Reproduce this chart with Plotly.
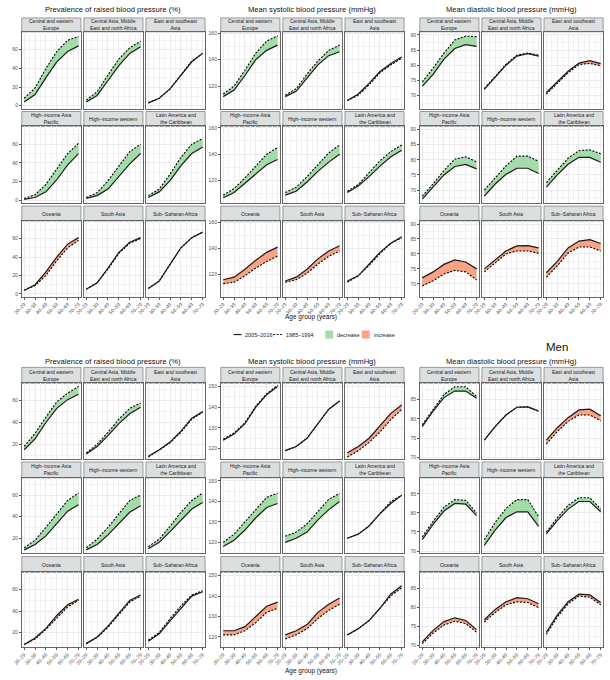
import plotly.graph_objects as go

AGE_LABELS = ["20–29", "30–39", "40–49", "50–59", "60–69", "70–79"]
REGIONS = ["Central and eastern<br>Europe", "Central Asia, Middle<br>East and north Africa",
           "East and southeast<br>Asia", "High−income Asia<br>Pacific", "High−income western",
           "Latin America and<br>the Caribbean", "Oceania", "South Asia", "Sub−Saharan Africa"]
METRIC_TITLES = ["Prevalence of raised blood pressure (%)", "Mean systolic blood pressure (mmHg)",
                 "Mean diastolic blood pressure (mmHg)"]

# ---- Women (top) : 2005-2016 (new) and 1985-1994 (old) ----
W_PREV_NEW = [[4, 12, 30, 47, 58, 64], [4, 11, 27, 43, 56, 63], [3, 8, 18, 33, 47, 56],
              [1, 3, 9, 22, 38, 50], [2, 5, 12, 25, 39, 50], [3, 9, 21, 37, 50, 57],
              [4, 10, 24, 40, 54, 61], [5, 12, 28, 45, 56, 61], [6, 14, 32, 50, 61, 67]]
W_PREV_OLD = [[8, 19, 40, 58, 70, 74], [6, 15, 33, 50, 62, 69], [3, 8, 18, 33, 48, 56],
              [2, 6, 17, 34, 50, 61], [3, 8, 21, 37, 52, 60], [5, 12, 28, 46, 60, 66],
              [4, 9, 20, 36, 50, 58], [5, 12, 27, 44, 55, 60], [6, 14, 32, 50, 61, 67]]
W_SYS_NEW = [[112, 117, 128, 140, 147, 151], [112, 116, 126, 136, 143, 146], [109, 114, 122, 131, 137, 142],
             [107, 111, 118, 125, 132, 136], [109, 112, 119, 127, 134, 140], [111, 116, 123, 131, 138, 143],
             [116, 118, 124, 131, 137, 141], [115, 118, 124, 132, 138, 142], [115, 119, 128, 137, 144, 149]]
W_SYS_OLD = [[114, 120, 132, 145, 154, 158], [113, 118, 129, 139, 147, 151], [109, 113, 121, 130, 136, 141],
             [109, 114, 122, 131, 140, 145], [111, 115, 123, 132, 141, 147], [112, 117, 126, 135, 142, 147],
             [113, 114, 119, 125, 130, 134], [114, 116, 121, 128, 134, 138], [114, 119, 127, 136, 144, 148]]
W_DIA_NEW = [[73, 77, 82, 85.5, 86.8, 86.2], [72, 76, 80, 83, 83.8, 83], [71, 74.5, 78, 80.7, 81.5, 80.5],
             [67, 71, 75, 77.8, 78.5, 77], [68, 72, 75.2, 77.2, 77.2, 75.5], [71, 75, 78.5, 80.8, 80.8, 79.2],
             [72, 74, 76.5, 78, 77.3, 75], [75, 78, 81, 82.7, 82.8, 82], [73.7, 77.5, 82, 84.3, 84.8, 83.5]]
W_DIA_OLD = [[74.5, 79, 84, 88.3, 89.6, 89.4], [72.3, 76.3, 80.3, 83.3, 84, 83.3], [70.5, 74, 77.5, 80.2, 80.6, 79.8],
             [68, 72, 76.5, 80.2, 81, 79.3], [70, 74, 78, 81.2, 81.2, 79.5], [72.5, 76.5, 80.5, 83, 83.3, 82],
             [69.3, 71, 73.3, 74.5, 74, 71.3], [74, 77, 80, 81, 81, 80.2], [72.2, 76, 80.3, 82.3, 82.3, 81]]

# ---- Men (bottom) ----
M_PREV_NEW = [[15, 25, 40, 53, 61, 66], [11, 18, 28, 39, 48, 54], [9, 15, 22, 32, 44, 50],
              [9, 14, 22, 33, 45, 51], [9, 14, 23, 34, 44, 50], [10, 16, 26, 37, 47, 53],
              [9, 15, 24, 36, 46, 51], [10, 16, 26, 38, 50, 55], [12, 19, 31, 43, 54, 58]]
M_PREV_OLD = [[18, 30, 45, 59, 67, 73], [12, 20, 31, 43, 53, 58], [8.5, 14.5, 21.5, 31, 43, 49.5],
              [11, 18, 30, 43, 55, 62], [11, 19, 30, 43, 55, 60], [12, 19, 31, 44, 55, 62],
              [9, 14, 23, 34, 44, 50], [9.5, 15.5, 25, 37, 48.5, 54], [13, 20, 33, 45, 55, 59]]
M_SYS_NEW = [[124, 127, 132, 140, 146, 150], [119, 121, 125, 132, 139, 143], [118, 121, 125, 131, 137, 141],
             [118, 121, 126, 132, 137, 139], [120, 122, 125, 131, 136, 140], [122, 124, 128, 134, 139, 143],
             [123, 123, 125, 130, 135, 137], [121, 123, 126, 132, 136, 139], [121, 124, 128, 134, 141, 145]]
M_SYS_OLD = [[124.5, 127.5, 132.5, 140.5, 146.5, 150.5], [119, 121, 125, 132, 139, 143], [116, 119, 123, 128, 134, 139],
             [120, 124, 130, 136, 142, 144], [123, 125, 129, 135, 141, 144], [122, 124, 128, 134, 140, 143],
             [121, 121, 123, 127, 132, 134], [119, 121, 124, 129, 133, 136], [121, 124, 128, 134, 140, 144]]
M_DIA_NEW = [[78, 82, 85.5, 87.2, 87.2, 85.3], [74.5, 78, 81, 83, 83.1, 82], [74.5, 77.7, 80.3, 82.3, 82.5, 80.8],
             [73, 77, 80.5, 82.5, 82.3, 79.3], [71.5, 75.5, 78.8, 80.3, 80.3, 76.5], [74.5, 78, 81, 83, 83, 80.3],
             [71, 74, 76.3, 77.3, 76.6, 74.2], [76.8, 79.5, 81.5, 82.6, 82.3, 81], [73.5, 78, 81.5, 83.5, 83.3, 81.3]]
M_DIA_OLD = [[78.5, 82.5, 86.3, 88.3, 88.3, 85.8], [74.5, 78, 81, 83, 83.1, 82], [73.5, 76.7, 79.3, 81, 81, 79.5],
             [73.7, 77.8, 81.5, 83.5, 83.3, 80], [73, 77.5, 81.2, 83.5, 83.5, 79], [75, 78.7, 82, 84, 84, 81],
             [70.5, 73.3, 75.4, 76.4, 75.8, 73.5], [76.2, 78.7, 80.7, 81.5, 81.3, 80], [73, 77.5, 81, 83, 82.7, 80.7]]

HALVES = [
    [(W_PREV_NEW, W_PREV_OLD), (W_SYS_NEW, W_SYS_OLD), (W_DIA_NEW, W_DIA_OLD)],
    [(M_PREV_NEW, M_PREV_OLD), (M_SYS_NEW, M_SYS_OLD), (M_DIA_NEW, M_DIA_OLD)],
]
Y_RANGES = [[[-3, 79], [103, 161], [65.7, 91]], [[6.5, 76], [115, 151.5], [69.6, 89.2]]]
Y_DTICK = [[20, 20, 5], [20, 10, 5]]

W, H = 610, 680
GREEN = "#a3dca8"
RED = "#f9a385"
FONT = "Liberation Sans, Arial, sans-serif"

COLS = [[(13, 73), (76, 136), (139, 199)],
        [(215, 275), (278, 338), (341, 401)],
        [(417, 477), (480, 540), (543, 603)]]
ROWS = [[(16, 30, 107), (110, 125, 202), (205, 220, 296)],
        [(367, 383, 459), (462, 478, 553), (557, 573, 648)]]


def px(x):
    return x / W


def py(y):
    return 1 - y / H


fig = go.Figure()
layout = {}
shapes = []
annotations = []
xs = list(range(len(AGE_LABELS)))

for h in range(2):
    for m in range(3):
        new_all, old_all = HALVES[h][m]
        for r in range(9):
            row, col = r // 3, r % 3
            idx = h * 27 + m * 9 + r + 1
            sfx = "" if idx == 1 else str(idx)
            xa, ya = "x" + sfx, "y" + sfx
            new, old = new_all[r], old_all[r]
            diff = sum(n - o for n, o in zip(new, old))
            color = RED if diff > 0 else GREEN
            fig.add_trace(go.Scatter(x=xs, y=old, mode="lines", line=dict(width=0, color=color),
                                     showlegend=False, hoverinfo="skip", xaxis=xa, yaxis=ya))
            fig.add_trace(go.Scatter(x=xs, y=new, mode="lines", line=dict(width=0, color=color),
                                     fill="tonexty", fillcolor=color,
                                     showlegend=False, hoverinfo="skip", xaxis=xa, yaxis=ya))
            fig.add_trace(go.Scatter(x=xs, y=old, mode="lines", line=dict(width=1.1, color="black", dash="2px,1.5px"),
                                     showlegend=False, xaxis=xa, yaxis=ya))
            fig.add_trace(go.Scatter(x=xs, y=new, mode="lines", line=dict(width=1.2, color="#1a1a1a"),
                                     showlegend=False, xaxis=xa, yaxis=ya))
            x0, x1 = COLS[m][col]
            st, pt, pb = ROWS[h][row]
            layout["xaxis" + sfx] = dict(
                domain=[px(x0), px(x1)], anchor=ya, range=[-0.22, 5.22],
                tickmode="array", tickvals=xs, ticktext=AGE_LABELS,
                showticklabels=(row == 2), tickangle=-45,
                tickfont=dict(size=5, color="#4d4d4d", family=FONT),
                ticks="outside" if row == 2 else "", ticklen=2, tickcolor="#555", tickwidth=0.6,
                showgrid=True, gridcolor="#ebebeb", gridwidth=0.6,
                minor=dict(dtick=0.5, tick0=0.5, showgrid=True, gridcolor="#f3f3f3", gridwidth=0.4),
                showline=True, mirror=True, linecolor="#666", linewidth=0.8, zeroline=False,
                fixedrange=True)
            dt = Y_DTICK[h][m]
            layout["yaxis" + sfx] = dict(
                domain=[py(pb), py(pt)], anchor=xa, range=Y_RANGES[h][m],
                dtick=dt, tick0=0, showticklabels=(col == 0),
                tickfont=dict(size=5, color="#4d4d4d", family=FONT),
                ticks="outside" if col == 0 else "", ticklen=2, tickcolor="#555", tickwidth=0.6,
                showgrid=True, gridcolor="#ebebeb", gridwidth=0.6,
                minor=dict(dtick=dt / 2, showgrid=True, gridcolor="#f3f3f3", gridwidth=0.4),
                showline=True, mirror=True, linecolor="#666", linewidth=0.8, zeroline=False,
                fixedrange=True)
            # strip
            shapes.append(dict(type="rect", xref="paper", yref="paper",
                               x0=px(x0), x1=px(x1), y0=py(pt), y1=py(st),
                               fillcolor="#dcdfe0", line=dict(color="#777", width=0.7), layer="below"))
            annotations.append(dict(text=REGIONS[r], xref="paper", yref="paper",
                                    x=px((x0 + x1) / 2), y=py((st + pt) / 2), showarrow=False,
                                    font=dict(size=5, color="#1a1a1a", family=FONT),
                                    xanchor="center", yanchor="middle", align="center"))
        # metric title
        title_y = 8 if h == 0 else 361
        cx = (COLS[m][0][0] + COLS[m][2][1]) / 2
        annotations.append(dict(text=METRIC_TITLES[m], xref="paper", yref="paper",
                                x=px(cx), y=py(title_y), showarrow=False,
                                font=dict(size=7.6, color="#111", family=FONT),
                                xanchor="center", yanchor="middle"))
    ay = 316 if h == 0 else 672
    annotations.append(dict(text="Age group (years)", xref="paper", yref="paper",
                            x=px(307), y=py(ay), showarrow=False,
                            font=dict(size=6.5, color="#111", family=FONT),
                            xanchor="center", yanchor="middle"))

annotations.append(dict(text="Men", xref="paper", yref="paper", x=px(556), y=py(347),
                        showarrow=False, font=dict(size=11.5, color="#111", family=FONT),
                        xanchor="center", yanchor="middle"))

# legend (drawn manually)
LY = 334
shapes.append(dict(type="line", xref="paper", yref="paper", x0=px(228), x1=px(236), y0=py(LY), y1=py(LY),
                   line=dict(color="#1a1a1a", width=1.2)))
shapes.append(dict(type="line", xref="paper", yref="paper", x0=px(268), x1=px(277), y0=py(LY), y1=py(LY),
                   line=dict(color="#1a1a1a", width=1.1, dash="2px,1.5px")))
shapes.append(dict(type="rect", xref="paper", yref="paper", x0=px(321), x1=px(329), y0=py(LY + 4), y1=py(LY - 4),
                   fillcolor=GREEN, line=dict(width=0)))
shapes.append(dict(type="rect", xref="paper", yref="paper", x0=px(358), x1=px(366), y0=py(LY + 4), y1=py(LY - 4),
                   fillcolor=RED, line=dict(width=0)))
for txt, xx in [("2005–2016", 238), ("1985–1994", 279), ("decrease", 331), ("increase", 368)]:
    annotations.append(dict(text=txt, xref="paper", yref="paper", x=px(xx), y=py(LY), showarrow=False,
                            font=dict(size=5.5, color="#1a1a1a", family=FONT),
                            xanchor="left", yanchor="middle"))

fig.update_layout(**layout)
fig.update_layout(width=W, height=H, margin=dict(l=0, r=0, t=0, b=0),
                  paper_bgcolor="white", plot_bgcolor="white",
                  shapes=shapes, annotations=annotations, showlegend=False,
                  font=dict(family=FONT))
fig.write_html("out.html", include_plotlyjs=True, config={"displayModeBar": False})
